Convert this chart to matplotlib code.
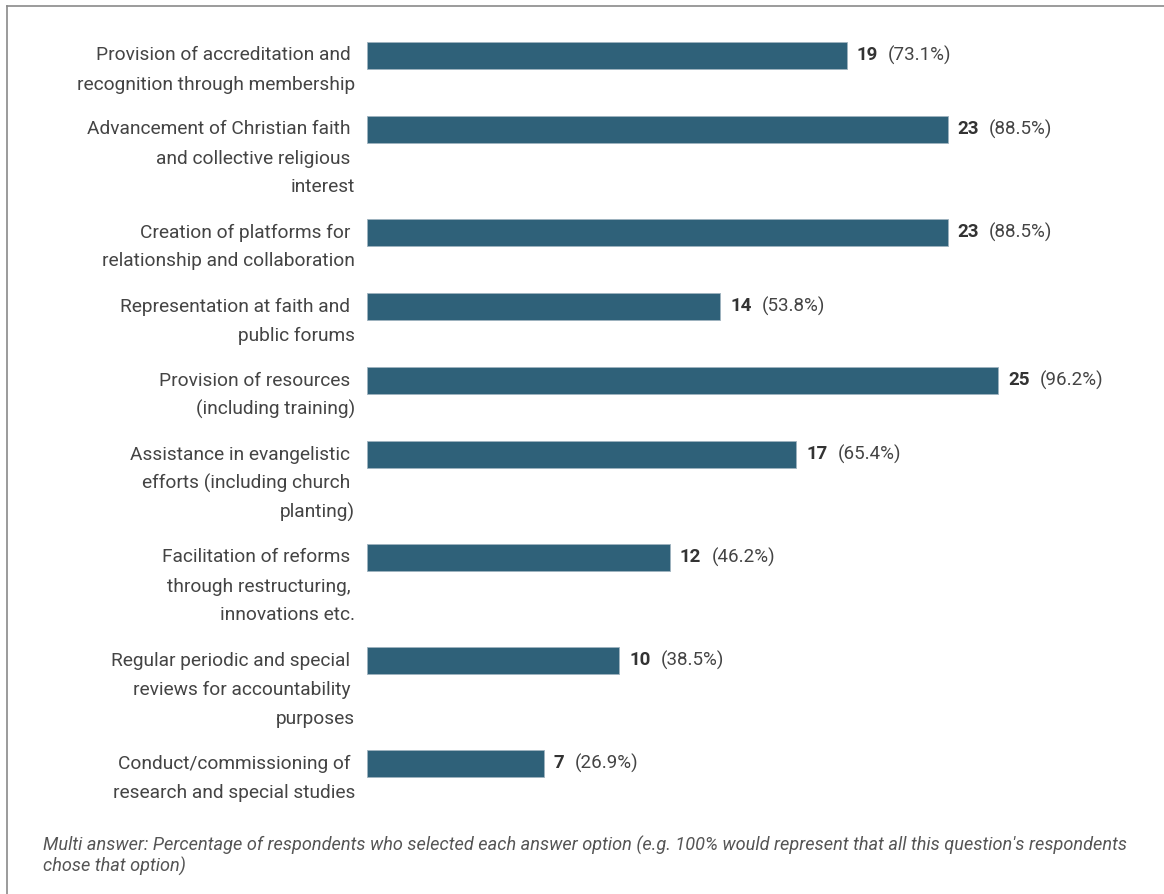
import matplotlib
matplotlib.use("Agg")
import matplotlib.pyplot as plt
from matplotlib import transforms
from matplotlib.lines import Line2D

categories = [
    ["Provision of accreditation and ", "recognition through membership"],
    ["Advancement of Christian faith ", "and collective religious ", "interest"],
    ["Creation of platforms for ", "relationship and collaboration"],
    ["Representation at faith and ", "public forums"],
    ["Provision of resources ", "(including training)"],
    ["Assistance in evangelistic ", "efforts (including church ", "planting)"],
    ["Facilitation of reforms ", "through restructuring, ", "innovations etc."],
    ["Regular periodic and special ", "reviews for accountability ", "purposes"],
    ["Conduct/commissioning of ", "research and special studies"],
]
counts = [19, 23, 23, 14, 25, 17, 12, 10, 7]
percents = ["73.1%", "88.5%", "88.5%", "53.8%", "96.2%", "65.4%", "46.2%", "38.5%", "26.9%"]
footnote = ("Multi answer: Percentage of respondents who selected each answer option "
            "(e.g. 100% would represent that all this question's respondents\nchose that option)")

W, H = 1164, 894
DPI = 100
plt.rcParams['font.family'] = ['Roboto', 'DejaVu Sans']

fig = plt.figure(figsize=(W / DPI, H / DPI), dpi=DPI)
fig.patch.set_facecolor('white')

px_per_unit = 25.24
ax_left, ax_width = 367, 720
ax = fig.add_axes([ax_left / W, 0, ax_width / W, 1])
ax.set_xlim(0, ax_width / px_per_unit)
ax.set_ylim(H, 0)
ax.axis('off')

# layout: row centers from line counts
line_h = 29
gap = 16
centers = []
y = 55
for lines in categories:
    centers.append(y)
    y += max(2, len(lines)) * line_h + gap

bar_color = '#2f6179'
ax.barh(centers, counts, height=27, left=0, color=bar_color,
        edgecolor='#9fb3bf', linewidth=0.6)

label_tr = transforms.offset_copy(ax.transData, fig=fig, x=-12, y=0, units='dots')
for c, lines in zip(centers, categories):
    for i, ln in enumerate(lines):
        ax.text(0, c + i * line_h + 0.5, ln, transform=label_tr, ha='right', va='center',
                fontsize=13.8, color='#444444')

num_tr = transforms.offset_copy(ax.transData, fig=fig, x=10, y=0, units='dots')
for c, n, p in zip(centers, counts, percents):
    t = ax.text(n, c, str(n), transform=num_tr, ha='left', va='center',
                fontsize=13.5, fontweight='bold', color='#333333')
    ax.annotate(f"({p})", xy=(1, 0.5), xycoords=t, xytext=(10, 0),
                textcoords='offset pixels', ha='left', va='center',
                fontsize=13.5, color='#444444')

fig.text(43 / W, 1 - 836 / H, footnote, ha='left', va='top', fontsize=13.1,
         style='italic', color='#555555', linespacing=1.12)

# border (top and left)
fig.add_artist(Line2D([7 / W, 1], [1 - 6 / H, 1 - 6 / H], transform=fig.transFigure,
                      color='#8a8a8a', linewidth=1.2))
fig.add_artist(Line2D([7 / W, 7 / W], [0, 1 - 6 / H], transform=fig.transFigure,
                      color='#8a8a8a', linewidth=1.2))

fig.savefig('out.png', dpi=DPI, facecolor='white')
